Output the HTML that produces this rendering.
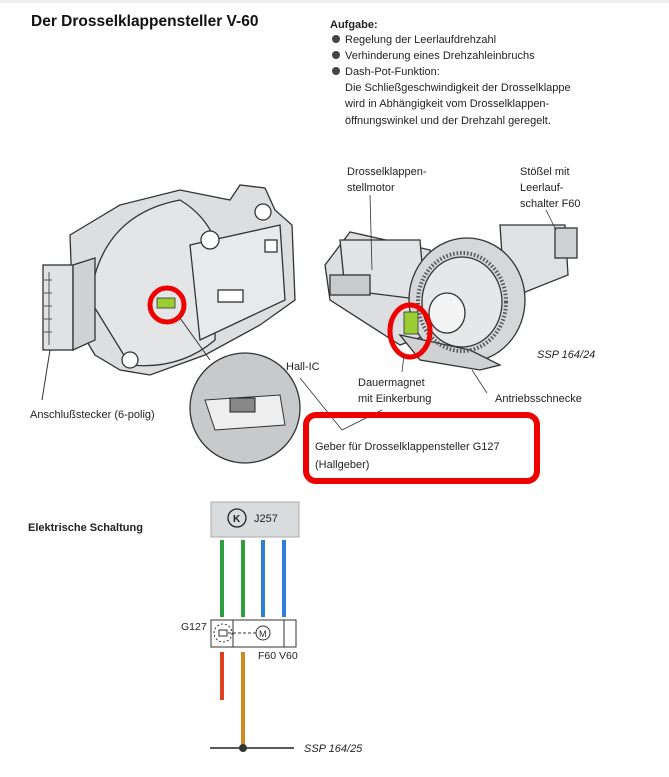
<!DOCTYPE html>
<html><head><meta charset="utf-8"><style>
html,body{margin:0;padding:0;background:#fff;}
svg{display:block;font-family:"Liberation Sans",sans-serif;}
</style></head><body>
<svg width="669" height="777" viewBox="0 0 669 777" xmlns="http://www.w3.org/2000/svg">
<rect width="669" height="777" fill="#fff"/>
<rect width="669" height="3" fill="#eee"/>
<text x="31" y="26" font-size="15.5" font-weight="bold" fill="#111">Der Drosselklappensteller V-60</text>
<g font-size="11" fill="#222">
<text x="330" y="28" font-weight="bold">Aufgabe:</text>
<circle cx="336" cy="39" r="4" fill="#444"/><text x="345" y="43">Regelung der Leerlaufdrehzahl</text>
<circle cx="336" cy="55" r="4" fill="#444"/><text x="345" y="59">Verhinderung eines Drehzahleinbruchs</text>
<circle cx="336" cy="71" r="4" fill="#444"/><text x="345" y="75">Dash-Pot-Funktion:</text>
<text x="345" y="91">Die Schließgeschwindigkeit der Drosselklappe</text>
<text x="345" y="107">wird in Abhängigkeit vom Drosselklappen-</text>
<text x="345" y="124">öffnungswinkel und der Drehzahl geregelt.</text>
</g>
<!-- left device -->
<g stroke="#333" stroke-width="1.3" fill="#dcdedf">
<path d="M70 235 L120 205 L180 190 L230 200 L240 185 L265 188 L275 210 L292 225 L295 300 L260 325 L205 355 L150 375 L120 370 L95 355 L80 330 L72 290 Z"/>
<path d="M90 300 Q100 215 180 200 Q205 215 215 240 L215 340 Q180 370 130 365 Z" fill="#e3e5e6"/>
<path d="M190 245 L280 225 L285 300 L200 340 Z" fill="#e8e9ea"/>
<rect x="43" y="265" width="30" height="85" fill="#e0e2e3"/>
<path d="M73 265 L95 258 L95 340 L73 350 Z" fill="#cfd1d2"/>
<circle cx="210" cy="240" r="9" fill="#fff"/>
<circle cx="263" cy="212" r="8" fill="#fff"/>
<circle cx="130" cy="360" r="8" fill="#fff"/>
<rect x="218" y="290" width="25" height="12" fill="#fff"/>
<rect x="265" y="240" width="12" height="12" fill="#fff"/>
</g>
<g stroke="#555" stroke-width="1"><line x1="49" y1="272" x2="49" y2="345"/>
<line x1="44" y1="280" x2="52" y2="280"/><line x1="44" y1="293" x2="52" y2="293"/><line x1="44" y1="306" x2="52" y2="306"/><line x1="44" y1="319" x2="52" y2="319"/><line x1="44" y1="332" x2="52" y2="332"/></g>
<rect x="157" y="298" width="18" height="10" fill="#9acd32" stroke="#333" stroke-width="0.8"/>
<circle cx="167" cy="305" r="17" fill="none" stroke="#e00" stroke-width="5"/>
<line x1="180" y1="318" x2="210" y2="360" stroke="#333"/>
<circle cx="245" cy="408" r="55" fill="#c8c9ca" stroke="#333" stroke-width="1.3"/>
<path d="M205 400 L280 395 L285 425 L215 430 Z" fill="#eee" stroke="#333"/>
<rect x="230" y="398" width="25" height="14" fill="#888" stroke="#222"/>
<line x1="42" y1="400" x2="50" y2="350" stroke="#333"/>
<text x="30" y="418" font-size="11" fill="#222">Anschlußstecker (6-polig)</text>
<text x="286" y="370" font-size="11" fill="#222">Hall-IC</text>
<line x1="300" y1="378" x2="342" y2="430" stroke="#333" stroke-width="0.8"/>
<line x1="342" y1="430" x2="382" y2="410" stroke="#333" stroke-width="0.8"/>
<!-- right device -->
<g stroke="#333" stroke-width="1.3" fill="#dcdedf">
<path d="M325 265 L350 232 L430 250 L440 330 L400 345 L330 300 Z"/>
<path d="M340 240 L420 240 L425 300 L345 290 Z" fill="#e2e3e4"/>
<rect x="330" y="275" width="40" height="20" fill="#c8cacb"/>
<path d="M500 225 L565 225 L568 275 L505 300 Z" fill="#e0e1e2"/>
<rect x="555" y="228" width="22" height="30" fill="#cfd1d2"/>
<ellipse cx="467" cy="300" rx="58" ry="62" fill="#d5d7d8"/>
<ellipse cx="462" cy="302" rx="40" ry="45" fill="#e6e7e8"/>
<ellipse cx="447" cy="313" rx="18" ry="20" fill="#f4f4f4"/>
<path d="M400 335 L470 350 L500 365 L480 370 L420 360 Z" fill="#cfd1d2"/>
</g>
<ellipse cx="462" cy="302" rx="44" ry="49" fill="none" stroke="#555" stroke-width="4" stroke-dasharray="1.5,2"/>
<rect x="404" y="312" width="14" height="22" fill="#9acd32" stroke="#333" stroke-width="0.8"/>
<ellipse cx="410" cy="331" rx="20" ry="26" fill="none" stroke="#e00" stroke-width="5"/>
<g stroke="#333" stroke-width="0.8">
<line x1="370" y1="195" x2="372" y2="270"/>
<line x1="546" y1="210" x2="556" y2="230"/>
<line x1="404" y1="355" x2="402" y2="372"/>
<line x1="472" y1="370" x2="487" y2="393"/>
</g>
<g font-size="11" fill="#222">
<text x="347" y="175">Drosselklappen-</text>
<text x="347" y="191">stellmotor</text>
<text x="520" y="175">Stößel mit</text>
<text x="520" y="191">Leerlauf-</text>
<text x="520" y="207">schalter F60</text>
<text x="537" y="358" font-style="italic">SSP 164/24</text>
<text x="358" y="386">Dauermagnet</text>
<text x="358" y="402">mit Einkerbung</text>
<text x="495" y="402">Antriebsschnecke</text>
<text x="315" y="450">Geber für Drosselklappensteller G127</text>
<text x="315" y="468">(Hallgeber)</text>
</g>
<rect x="306" y="415" width="231" height="66" rx="10" fill="none" stroke="#e00" stroke-width="6"/>
<!-- circuit -->
<text x="28" y="531" font-size="11" font-weight="bold" fill="#222">Elektrische Schaltung</text>
<rect x="211" y="502" width="88" height="35" fill="#d9dcdc" stroke="#aaa"/>
<circle cx="237" cy="518" r="9" fill="none" stroke="#222" stroke-width="1.3"/>
<text x="233" y="522" font-size="10" font-weight="bold" fill="#222">K</text>
<text x="254" y="522" font-size="11" fill="#222">J257</text>
<g stroke-width="4">
<line x1="222" y1="540" x2="222" y2="617" stroke="#2e9e3e"/>
<line x1="243" y1="540" x2="243" y2="617" stroke="#2e9e3e"/>
<line x1="263" y1="540" x2="263" y2="617" stroke="#2e7fd8"/>
<line x1="284" y1="540" x2="284" y2="617" stroke="#2e7fd8"/>
<line x1="222" y1="652" x2="222" y2="700" stroke="#e04020"/>
<line x1="243" y1="652" x2="243" y2="747" stroke="#d08a20"/>
</g>
<rect x="211" y="620" width="85" height="27" fill="#fff" stroke="#333"/>
<line x1="233" y1="620" x2="233" y2="647" stroke="#333"/>
<circle cx="223" cy="633" r="9" fill="none" stroke="#333" stroke-dasharray="2,2"/>
<rect x="219" y="630" width="8" height="6" fill="#fff" stroke="#333"/>
<circle cx="263" cy="633" r="7" fill="none" stroke="#333"/>
<text x="259" y="637" font-size="9" fill="#222">M</text>
<line x1="228" y1="633" x2="256" y2="633" stroke="#333" stroke-dasharray="3,2"/>
<polyline points="243,647 284,647 284,620" fill="none" stroke="#333"/>
<text x="181" y="630" font-size="10.5" fill="#222">G127</text>
<text x="258" y="659" font-size="10.5" fill="#222">F60 V60</text>
<line x1="210" y1="748" x2="294" y2="748" stroke="#222" stroke-width="1.5"/>
<circle cx="243" cy="748" r="4" fill="#333"/>
<text x="304" y="752" font-size="11" font-style="italic" fill="#222">SSP 164/25</text>
</svg>
</body></html>
